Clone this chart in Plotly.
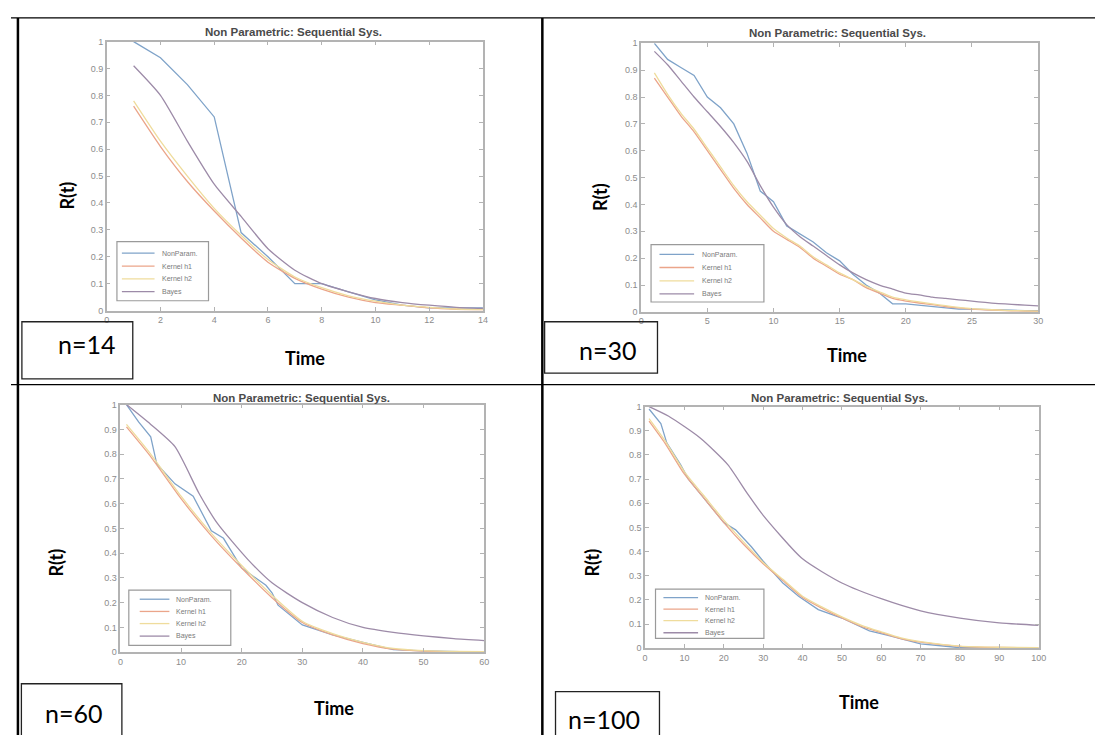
import plotly.graph_objects as go

W, H = 1103, 735

series_names = ["NonParam.", "Kernel h1", "Kernel h2", "Bayes"]
colors = ["#7fa3c9", "#eba58a", "#efdc9c", "#9d8ba8"]

# ---------------- data: n = 14 ----------------
np14_t = [1, 2, 3, 4, 5, 6, 7, 8, 9, 10, 11, 12, 13, 14]
np14 = [1.0, 0.94, 0.84, 0.72, 0.29, 0.20, 0.10, 0.10, 0.07, 0.04, 0.02, 0.01, 0.01, 0.01]
k14_t = [1, 2, 3, 4, 5, 6, 7, 8, 9, 10, 11, 12, 13, 14]
kh1_14 = [0.76, 0.61, 0.48, 0.37, 0.27, 0.18, 0.12, 0.08, 0.05, 0.03, 0.02, 0.01, 0.005, 0.003]
kh2_14 = [0.78, 0.63, 0.50, 0.38, 0.28, 0.19, 0.125, 0.085, 0.055, 0.035, 0.02, 0.012, 0.006, 0.004]
bayes14 = [0.91, 0.80, 0.63, 0.47, 0.35, 0.23, 0.15, 0.10, 0.07, 0.045, 0.03, 0.02, 0.012, 0.008]

# ---------------- data: n = 30 ----------------
t30 = list(range(1, 31))
np30 = [1.00, 0.94, 0.91, 0.88, 0.80, 0.76, 0.70, 0.59, 0.45, 0.41, 0.32, 0.29, 0.26, 0.22, 0.19,
        0.14, 0.10, 0.07, 0.03, 0.03, 0.025, 0.02, 0.015, 0.01, 0.01, 0.008, 0.007, 0.006, 0.005, 0.005]
kh1_30 = [0.87, 0.80, 0.73, 0.67, 0.60, 0.53, 0.46, 0.40, 0.35, 0.30, 0.27, 0.24, 0.20, 0.17, 0.14,
          0.12, 0.09, 0.07, 0.05, 0.04, 0.033, 0.027, 0.02, 0.015, 0.01, 0.008, 0.006, 0.004, 0.003, 0.002]
kh2_30 = [0.89, 0.81, 0.74, 0.68, 0.61, 0.54, 0.47, 0.41, 0.36, 0.31, 0.275, 0.245, 0.205, 0.175, 0.145,
          0.12, 0.095, 0.075, 0.055, 0.045, 0.037, 0.03, 0.023, 0.017, 0.012, 0.009, 0.007, 0.005, 0.004, 0.003]
bayes30 = [0.97, 0.92, 0.86, 0.80, 0.745, 0.69, 0.63, 0.56, 0.47, 0.39, 0.325, 0.28, 0.245, 0.21, 0.175,
           0.145, 0.12, 0.10, 0.085, 0.07, 0.063, 0.055, 0.05, 0.045, 0.04, 0.035, 0.031, 0.028, 0.025, 0.022]

# ---------------- data: n = 60 ----------------
np60_t = [1, 3, 5, 6, 9, 12, 15, 17, 20, 24, 25, 26, 30, 35, 40, 45, 50, 60]
np60 = [1.0, 0.93, 0.87, 0.76, 0.68, 0.63, 0.49, 0.46, 0.34, 0.27, 0.24, 0.19, 0.11, 0.07, 0.04, 0.01, 0.005, 0.0]
k60_t = [1, 5, 10, 15, 20, 25, 30, 35, 40, 45, 50, 55, 60]
kh1_60 = [0.91, 0.79, 0.62, 0.47, 0.34, 0.22, 0.12, 0.07, 0.035, 0.012, 0.004, 0.002, 0.001]
kh2_60 = [0.92, 0.80, 0.63, 0.48, 0.35, 0.23, 0.125, 0.075, 0.04, 0.015, 0.006, 0.003, 0.002]
bayes60_t = [1, 5, 9, 13, 16, 21, 25, 30, 35, 40, 45, 50, 55, 60]
bayes60 = [1.0, 0.92, 0.83, 0.64, 0.52, 0.375, 0.28, 0.20, 0.14, 0.10, 0.08, 0.066, 0.055, 0.047]

# ---------------- data: n = 100 ----------------
np100_t = [1, 4, 5.5, 9, 11, 16, 20, 23, 27, 30, 35, 39, 44, 50, 57, 62, 70, 79, 88, 100]
np100 = [0.99, 0.93, 0.85, 0.76, 0.70, 0.60, 0.52, 0.49, 0.42, 0.36, 0.27, 0.215, 0.16, 0.125,
         0.072, 0.052, 0.018, 0.004, 0.0, 0.0]
k100_t = [1, 5, 10, 15, 20, 25, 30, 35, 40, 45, 50, 55, 60, 65, 70, 80, 90, 100]
kh1_100 = [0.94, 0.85, 0.72, 0.62, 0.52, 0.43, 0.35, 0.28, 0.21, 0.165, 0.125, 0.09, 0.065, 0.04,
           0.025, 0.008, 0.003, 0.001]
kh2_100 = [0.95, 0.86, 0.73, 0.63, 0.53, 0.44, 0.355, 0.285, 0.215, 0.17, 0.13, 0.095, 0.068, 0.043,
           0.027, 0.009, 0.004, 0.002]
bayes100_t = [1, 6, 14, 21, 26, 30, 40, 50, 60, 70, 80, 90, 100]
bayes100 = [1.0, 0.96, 0.87, 0.76, 0.64, 0.55, 0.37, 0.27, 0.205, 0.155, 0.125, 0.105, 0.095]

sample_sizes = ["n=14", "n=30", "n=60", "n=100"]
x_max = [14, 30, 60, 100]
x_dtick = [2, 5, 10, 10]
title_text = "Non Parametric: Sequential Sys."

panel_series = [
    [(np14_t, np14), (k14_t, kh1_14), (k14_t, kh2_14), (k14_t, bayes14)],
    [(t30, np30), (t30, kh1_30), (t30, kh2_30), (t30, bayes30)],
    [(np60_t, np60), (k60_t, kh1_60), (k60_t, kh2_60), (bayes60_t, bayes60)],
    [(np100_t, np100), (k100_t, kh1_100), (k100_t, kh2_100), (bayes100_t, bayes100)],
]

# ---------------- layout geometry (pixels) ----------------
layouts = [
    dict(ax=(96.7, 476.7, 29, 301.7), title=(285, 19), time=(297, 350), rt=(56.6, 185),
         box=(11, 123, 313, 371), ntext=(76, 336),
         leg=(107, 199.5, 231.7, 291.7), leg_y=[243.4, 256.7, 269.5, 282.4], leg_x=(112, 145, 151)),
    dict(ax=(636.5, 1037.5, 30.7, 303), title=(835, 20.5), time=(844.7, 347), rt=(595.6, 187),
         box=(539, 653, 313, 365), ntext=(602.5, 342),
         leg=(646.5, 760.5, 234.8, 293), leg_y=[244.8, 258, 271.5, 284.8], leg_x=(655, 690, 696)),
    dict(ax=(110.5, 478, 397, 648), title=(293, 390.5), time=(326, 705), rt=(45.6, 557),
         box=(10.5, 112, 680, 740), ntext=(63, 710),
         leg=(119, 222, 585, 641), leg_y=[594.3, 606.7, 619, 631.7], leg_x=(130, 160, 165)),
    dict(ax=(640.5, 1038, 399, 644), title=(837, 390.5), time=(857, 698), rt=(587, 557),
         box=(550, 655, 688, 740), ntext=(599, 716),
         leg=(651, 760.5, 584, 634), leg_y=[592.7, 604.3, 616, 628.3], leg_x=(659, 694, 699)),
]


def px(x):
    return x / W


def py(y):
    return 1 - y / H


fig = go.Figure()
shapes = []
annotations = []

axis_color = "#b3b3b3"
tick_font = dict(family="Liberation Sans, Arial", size=9, color="#8c8c8c")

for i, (series, lay) in enumerate(zip(panel_series, layouts)):
    k = "" if i == 0 else str(i + 1)
    xa, ya = "x" + k, "y" + k
    x0, x1, y0, y1 = lay["ax"]
    for j, (tt, vv) in enumerate(series):
        fig.add_trace(go.Scatter(
            x=tt, y=vv, mode="lines", name=series_names[j], showlegend=False,
            line=dict(color=colors[j], width=1.3, shape="linear" if j == 0 else "spline", smoothing=0.6),
            xaxis=xa, yaxis=ya,
        ))
    fig.layout["xaxis" + k] = dict(
        domain=[px(x0), px(x1)], range=[0, x_max[i]], dtick=x_dtick[i], tick0=0,
        ticks="inside", ticklen=4, tickcolor=axis_color, showline=True, linecolor=axis_color,
        linewidth=1.5, mirror="allticks", showgrid=False, zeroline=False, tickfont=tick_font,
        anchor=ya, fixedrange=True,
    )
    fig.layout["yaxis" + k] = dict(
        domain=[py(y1), py(y0)], range=[0, 1], dtick=0.1, tick0=0,
        ticks="inside", ticklen=4, tickcolor=axis_color, showline=True, linecolor=axis_color,
        linewidth=1.5, mirror="allticks", showgrid=False, zeroline=False, tickfont=tick_font,
        anchor=xa, fixedrange=True,
    )
    # title
    tx, ty = lay["title"]
    annotations.append(dict(x=px(tx), y=py(ty), xref="paper", yref="paper", text="<b>" + title_text + "</b>",
                            showarrow=False, xanchor="center", yanchor="middle",
                            font=dict(family="Liberation Sans, Arial", size=11.5, color="#4a4a4a")))
    # Time label
    tx, ty = lay["time"]
    annotations.append(dict(x=px(tx), y=py(ty), xref="paper", yref="paper", text="<b>Time</b>",
                            showarrow=False, xanchor="center", yanchor="middle",
                            font=dict(family="Lato, Open Sans", size=18, color="#000")))
    # R(t) label
    tx, ty = lay["rt"]
    annotations.append(dict(x=px(tx), y=py(ty), xref="paper", yref="paper", text="<b>R(t)</b>",
                            showarrow=False, xanchor="center", yanchor="middle", textangle=-90,
                            font=dict(family="Lato, Open Sans", size=18, color="#000")))
    # n box
    bx0, bx1, by0, by1 = lay["box"]
    shapes.append(dict(type="rect", xref="paper", yref="paper", x0=px(bx0), x1=px(bx1), y0=py(by1), y1=py(by0),
                       line=dict(color="#222", width=1.3), fillcolor="rgba(0,0,0,0)"))
    tx, ty = lay["ntext"]
    annotations.append(dict(x=px(tx), y=py(ty), xref="paper", yref="paper", text=sample_sizes[i],
                            showarrow=False, xanchor="center", yanchor="middle",
                            font=dict(family="Lato, Open Sans", size=25, color="#000")))
    # legend box
    lx0, lx1, ly0, ly1 = lay["leg"]
    shapes.append(dict(type="rect", xref="paper", yref="paper", x0=px(lx0), x1=px(lx1), y0=py(ly1), y1=py(ly0),
                       line=dict(color="#9a9a9a", width=1.2), fillcolor="white"))
    sx0, sx1, txx = lay["leg_x"]
    for j, yy in enumerate(lay["leg_y"]):
        shapes.append(dict(type="line", xref="paper", yref="paper", x0=px(sx0), x1=px(sx1), y0=py(yy), y1=py(yy),
                           line=dict(color=colors[j], width=1.3)))
        annotations.append(dict(x=px(txx), y=py(yy), xref="paper", yref="paper", text=series_names[j],
                                showarrow=False, xanchor="left", yanchor="middle",
                                font=dict(family="Liberation Sans, Arial", size=7, color="#7a7a7a")))

# table borders
shapes.append(dict(type="line", xref="paper", yref="paper", x0=px(7), x1=px(7), y0=py(5), y1=py(740),
                   line=dict(color="#000", width=2.5)))
shapes.append(dict(type="line", xref="paper", yref="paper", x0=px(536.7), x1=px(536.7), y0=py(5), y1=py(740),
                   line=dict(color="#000", width=2.5)))
shapes.append(dict(type="line", xref="paper", yref="paper", x0=0, x1=1, y0=py(5), y1=py(5),
                   line=dict(color="#000", width=1.3)))
shapes.append(dict(type="line", xref="paper", yref="paper", x0=0, x1=1, y0=py(376.7), y1=py(376.7),
                   line=dict(color="#000", width=1.3)))

fig.update_layout(
    width=W, height=H, margin=dict(l=0, r=0, t=0, b=0),
    paper_bgcolor="white", plot_bgcolor="white",
    shapes=shapes, annotations=annotations, showlegend=False,
)

fig.write_html("out.html")
